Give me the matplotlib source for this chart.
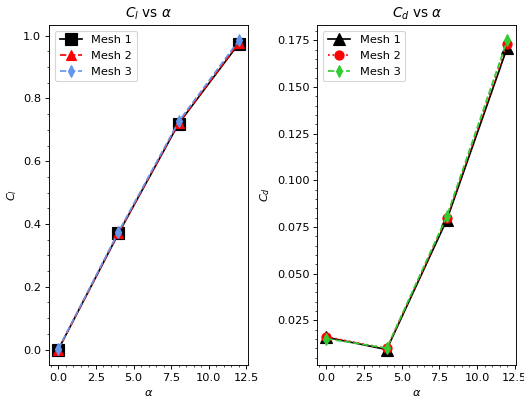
import matplotlib
matplotlib.use("Agg")
import matplotlib.pyplot as plt
from matplotlib.ticker import MultipleLocator

alpha = [0, 4, 8, 12]

cl_mesh1 = [0.0, 0.370, 0.720, 0.975]
cl_mesh2 = [0.0, 0.372, 0.722, 0.978]
cl_mesh3 = [0.002, 0.375, 0.727, 0.985]

cd_mesh1 = [0.0160, 0.0094, 0.0790, 0.1710]
cd_mesh2 = [0.0162, 0.0100, 0.0800, 0.1730]
cd_mesh3 = [0.0152, 0.0102, 0.0810, 0.1750]

dpi = 82
fig, (ax1, ax2) = plt.subplots(1, 2, figsize=(524 / dpi, 402 / dpi), dpi=dpi)
fig.subplots_adjust(left=0.094, right=0.985, top=0.938, bottom=0.092, wspace=0.35)

# lift coefficient
ax1.plot(alpha, cl_mesh1, "-s", color="black", markersize=10, label="Mesh 1")
ax1.plot(alpha, cl_mesh2, "--^", color="red", markersize=8, label="Mesh 2")
ax1.plot(alpha, cl_mesh3, "--d", color="cornflowerblue", markersize=7, label="Mesh 3")
ax1.set_title(r"$C_l$ vs $\alpha$")
ax1.set_xlabel(r"$\alpha$")
ax1.set_ylabel(r"$C_l$")
ax1.legend(loc="upper left")

# drag coefficient
ax2.plot(alpha, cd_mesh1, "-^", color="black", markersize=10, label="Mesh 1")
ax2.plot(alpha, cd_mesh2, ":o", color="red", markersize=8, label="Mesh 2")
ax2.plot(alpha, cd_mesh3, "--d", color="limegreen", markersize=7, label="Mesh 3")
ax2.set_title(r"$C_d$ vs $\alpha$")
ax2.set_xlabel(r"$\alpha$")
ax2.set_ylabel(r"$C_d$")
ax2.legend(loc="upper left")

for ax in (ax1, ax2):
    ax.xaxis.set_major_locator(MultipleLocator(2.5))
    ax.minorticks_on()

plt.savefig("out.png", dpi=dpi)
